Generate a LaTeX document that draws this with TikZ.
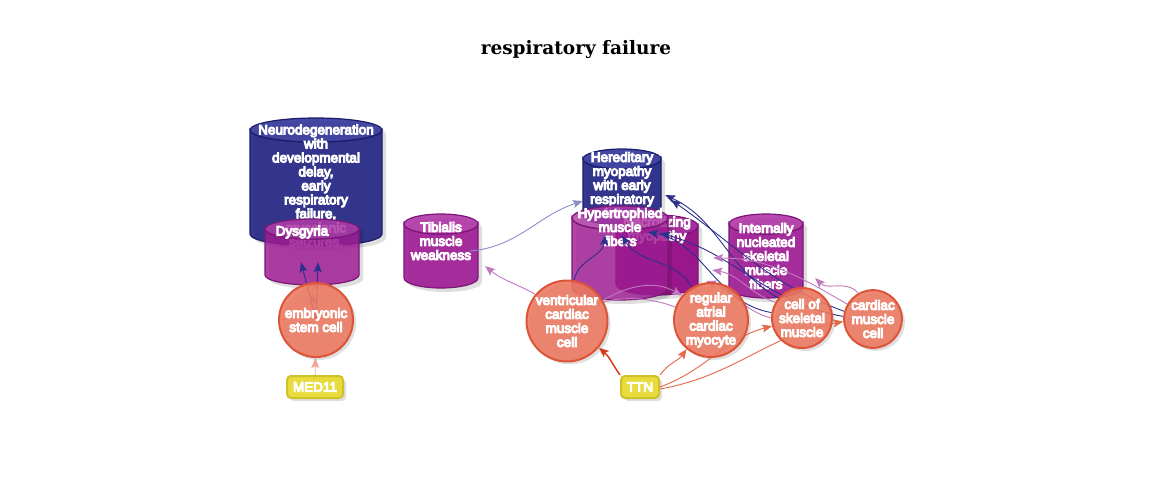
\documentclass[tikz,border=0pt]{standalone}
\usepackage{fontspec}
\setmainfont{Liberation Sans}
\newfontfamily\labfont{Liberation Sans}
\newfontfamily\titlefont{DejaVu Serif}
\usetikzlibrary{arrows.meta,shadows,calc}
\pgfdeclarelayer{cyl}
\pgfdeclarelayer{edges}
\pgfsetlayers{cyl,edges,main}
\definecolor{dblue}{HTML}{2A2D88}
\definecolor{dbluetop}{HTML}{3A3E9E}
\definecolor{dblueline}{HTML}{1B1D6A}
\definecolor{purp}{HTML}{A01E96}
\definecolor{purptop}{HTML}{B23AA8}
\definecolor{purpdark}{HTML}{930082}
\definecolor{purpline}{HTML}{7C1677}
\definecolor{salm}{HTML}{EC785F}
\definecolor{salmline}{HTML}{DC5538}
\definecolor{yel}{HTML}{EADB3C}
\definecolor{yelline}{HTML}{CFC12A}
\definecolor{eblue}{HTML}{2C2F8C}
\definecolor{elblue}{HTML}{8A8DC6}
\definecolor{epurp}{HTML}{C078BE}
\definecolor{ered}{HTML}{D43C1C}
\definecolor{esalm}{HTML}{E46848}
\definecolor{elsalm}{HTML}{F2A594}
\newcommand\oltbegin{\special{pdf:literal direct 2 Tr 1.05 w 0 0 0 RG}}
\newcommand\oltend{\special{pdf:literal direct 0 Tr 0.4 w}}
% cylinder: cx cy hw hh ry body top line opacity
\newcommand\cyl[9]{%
  \fill[black,opacity=0.13] ({#1-#3+4},{#2+#4-#5-4}) -- ({#1-#3+4},{#2-#4+#5-4})
    arc[start angle=180,end angle=360,x radius=#3,y radius=#5]
    -- ({#1+#3+4},{#2+#4-#5-4}) arc[start angle=0,end angle=180,x radius=#3,y radius=#5] -- cycle;
  \path[fill=#6,fill opacity=#9,draw=#8,line width=1.2pt] ({#1-#3},{#2+#4-#5}) -- ({#1-#3},{#2-#4+#5})
    arc[start angle=180,end angle=360,x radius=#3,y radius=#5]
    -- ({#1+#3},{#2+#4-#5}) arc[start angle=0,end angle=-180,x radius=#3,y radius=#5] -- cycle;
  \path[fill=#7,fill opacity=#9,draw=#8,line width=1.2pt] (#1,{#2+#4-#5}) ellipse[x radius=#3,y radius=#5];
}
\tikzset{
  lab/.style={font=\labfont\fontsize{13.5}{14}\selectfont,text=white,align=center,inner sep=0pt,
    execute at begin node=\oltbegin,execute at end node=\oltend},
  box/.style={inner sep=0pt,draw=none,fill=none},
  cell/.style={circle,lab,fill=salm,draw=salmline,line width=2pt,fill opacity=0.88,
    drop shadow={shadow xshift=3pt,shadow yshift=-3pt,opacity=0.25}},
  gene/.style={rectangle,rounded corners=4pt,lab,fill=yel,draw=yelline,line width=2pt,
    minimum height=22pt,drop shadow={shadow xshift=3pt,shadow yshift=-3pt,opacity=0.25}},
  e/.style={-{Stealth[length=10pt,width=8pt,inset=2pt]},line width=0.9pt},
}
\begin{document}
\begin{tikzpicture}[x=1pt,y=1pt]
\useasboundingbox (0,0) rectangle (1152,-483);
\node[font=\titlefont\bfseries\fontsize{18.5}{22}\selectfont] (title) at (576,-50) {respiratory failure};

\begin{pgfonlayer}{cyl}
% Neurodegeneration
\cyl{316}{-182}{66}{64}{12}{dblue}{dbluetop}{dblueline}{0.95}
\node[box,minimum width=132pt,minimum height=128pt] (neuro) at (316,-182) {};
\node[lab] (neurotext) at (316,-199.5) {Neurodegeneration\\with\\developmental\\delay,\\early\\respiratory\\failure,\\myoclonic\\seizures,\\and brain\\abnormalities};
% Dysgyria
\cyl{312}{-252}{47}{33}{10}{purp}{purptop}{purpline}{0.85}
\node[box,minimum width=94pt,minimum height=66pt] (dys) at (312,-252) {};
\node[lab] (dystext) at (302,-232) {Dysgyria};
% Tibialis
\cyl{441}{-251}{37}{37}{10}{purp}{purptop}{purpline}{0.92}
\node[box,minimum width=74pt,minimum height=74pt] (tib) at (441,-251) {};
\node[lab] (tibtext) at (441,-241) {Tibialis\\muscle\\weakness};
% Hereditary myopathy
\cyl{622}{-187}{39}{38}{10}{dblue}{dbluetop}{dblueline}{0.95}
\node[box,minimum width=78pt,minimum height=76pt] (her) at (622,-187) {};
\node[lab] (hertext) at (622,-185) {Hereditary\\myopathy\\with early\\respiratory\\failure};
% Necrotizing myopathy
\cyl{657}{-255}{41}{40}{11}{purpdark}{purp}{purpline}{0.9}
\node[box,minimum width=82pt,minimum height=80pt] (nec) at (657,-255) {};
\node[lab] (nectext) at (657,-230) {Necrotizing\\myopathy};
% Hypertrophied muscle fibers
\cyl{620}{-253}{48}{47}{12}{purp}{purptop}{purpline}{0.82}
\node[box,minimum width=96pt,minimum height=94pt] (hyp) at (620,-253) {};
\node[lab] (hyptext) at (620,-227) {Hypertrophied\\muscle\\fibers};
% Internally nucleated
\cyl{766}{-256}{37}{42}{10}{purp}{purptop}{purpline}{0.92}
\node[box,minimum width=74pt,minimum height=84pt] (int) at (766,-256) {};
\node[lab] (inttext) at (766,-256) {Internally\\nucleated\\skeletal\\muscle\\fibers};
\end{pgfonlayer}

\node[cell,minimum size=74pt] (esc) at (316,-320) {embryonic\\stem cell};
\node[gene,minimum width=56pt] (med) at (315,-387) {MED11};
\node[cell,minimum size=76pt] (vent) at (567,-321) {ventricular\\cardiac\\muscle\\cell};
\node[cell,minimum size=66pt] (reg) at (711,-320) {regular\\atrial\\cardiac\\myocyte};
\node[cell,minimum size=60pt] (skel) at (802,-318) {cell of\\skeletal\\muscle};
\node[cell,minimum size=56pt] (card) at (873,-319) {cardiac\\muscle\\cell};
\node[gene,minimum width=38pt] (ttn) at (640,-387) {TTN};

\begin{pgfonlayer}{edges}
\draw[e,elsalm] (med) -- (esc);
\draw[e,epurp] (esc.center) -- ([yshift=-8pt]dys.south);
\draw[e,eblue] (esc.center) -- ([shift={(-15,-16)}]neuro.south);
\draw[e,eblue] (esc.center) -- ([shift={(2,-16)}]neuro.south);
\draw[e,epurp] (vent.140) to[out=150,in=-40] ([shift={(7,-15)}]tib.east);
\draw[e,elblue] ([xshift=-8pt]tib.east) to[out=5,in=198] ([yshift=-14pt]her.west);
\draw[e,eblue] (vent.80) to[out=80,in=-95] ([shift={(-17,-10)}]her.south);
\draw[e,eblue] (reg.120) to[out=120,in=-60] ([shift={(0,-10)}]her.south);
\draw[e,eblue] (skel.140) to[out=150,in=-25] ([shift={(4,-8)}]her.east);
\draw[e,eblue] (skel.170) to[out=170,in=-10] ([shift={(26,-7)}]her.south);
\draw[e,eblue] (card.165) to[out=160,in=-35] ([shift={(10,-13)}]her.east);
\draw[e,eblue] (card.175) to[out=170,in=-15] ([shift={(38,-8)}]her.south);
\draw[e,epurp] (skel.150) to[out=160,in=-10] ([shift={(14,-15)}]nec.east);
\draw[e,epurp] (card.150) to[out=150,in=0] ([shift={(15,-3)}]nec.east);
\draw[e,epurp] (skel.180) to[out=165,in=-20] ([shift={(38,-28)}]hyp.east);
\draw[e,epurp] (card.120) to[out=130,in=-45] ([shift={(12,-22)}]int.east);
\draw[e,epurp] (reg.160) to[out=160,in=20] ([shift={(1,8)}]vent.center);
\draw[e,epurp] (vent.30) to[out=30,in=150] (reg.140);
\draw[e,ered,line width=1.5pt] (ttn.north west) to[out=125,in=-40] (vent.-40);
\draw[e,esalm] (ttn.north east) to[out=55,in=-125] (reg.-130);
\draw[e,esalm] (ttn.east) to[out=20,in=-165] (skel.195);
\draw[e,esalm] ([yshift=-2pt]ttn.east) to[out=10,in=-170] (card.185);
\end{pgfonlayer}
\end{tikzpicture}
\end{document}
